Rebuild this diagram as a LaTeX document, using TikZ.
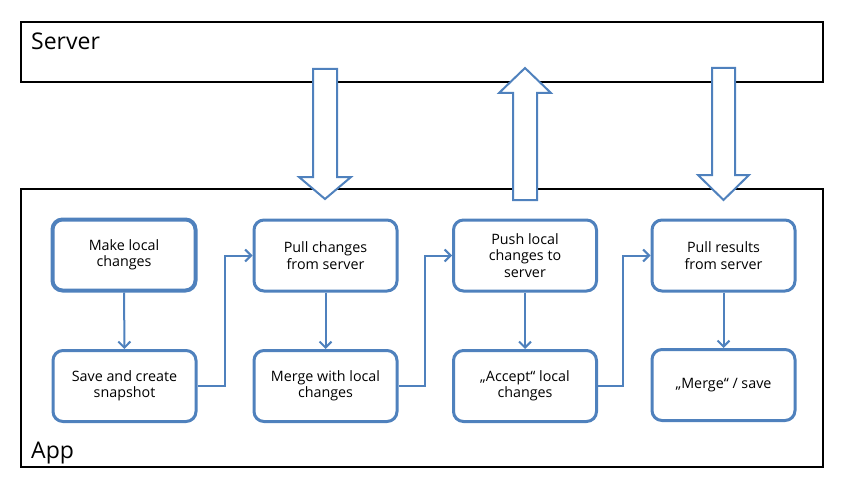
\documentclass[tikz,border=0pt]{standalone}
\usepackage{fontspec}
\setmainfont{Open Sans}
\usetikzlibrary{arrows.meta}
\definecolor{ob}{HTML}{4F81BD}
\begin{document}
\begin{tikzpicture}[x=1pt,y=-1pt,
  lane/.style={draw=black, line width=2pt},
  lanelabel/.style={anchor=base west, inner sep=0pt, font=\fontsize{23}{27}\selectfont},
  box/.style={draw=ob, line width=3pt, rounded corners=10pt, fill=white, align=center,
    minimum width=143pt, minimum height=71pt, inner sep=0pt,
    font=\fontsize{14.3}{16.5}\selectfont},
  thickbox/.style={box, line width=4pt},
  conn/.style={draw=ob, line width=2pt, -{Straight Barb[length=6pt,width=12pt,line width=2pt]}},
  blockarrow/.style={draw=ob, line width=2pt, fill=white, line join=miter}
]
\useasboundingbox (0,0) rectangle (844,487);
% lanes
\draw[lane] (21,22) rectangle (823,82);
\node[lanelabel] (srv) at (31,50) {Server};
\draw[lane] (21,189) rectangle (823,467);
\node[lanelabel] (app) at (31,458) {App};
% block arrows
\draw[blockarrow] (313,69) -- (337,69) -- (337,177) -- (351,177) -- (325,199) -- (299,177) -- (313,177) -- cycle;
\draw[blockarrow] (513,200) -- (537,200) -- (537,93) -- (551,93) -- (525,68) -- (499,93) -- (513,93) -- cycle;
\draw[blockarrow] (712,68) -- (735,68) -- (735,175) -- (749,175) -- (723.5,200) -- (698,175) -- (712,175) -- cycle;
% boxes
\node[thickbox] (b1) at (124,255) {Make local\\changes};
\node[box] (b2) at (124.5,386) {Save and create\\snapshot};
\node[box] (b3) at (325.5,255.5) {Pull changes\\from server};
\node[box] (b4) at (325.5,386) {Merge with local\\changes};
\node[box] (b5) at (525,255.5) {Push local\\changes to\\server};
\node[box] (b6) at (525,386) {„Accept“ local\\changes};
\node[box] (b7) at (723.5,255.5) {Pull results\\from server};
\node[box] (b8) at (723.5,385) {„Merge“ / save};
% connectors
\draw[conn] (b1) -- (b2);
\draw[conn] (b3) -- (b4);
\draw[conn] (b5) -- (b6);
\draw[conn] (b7) -- (b8);
\draw[conn] (b2.east) -- ++(27,0) |- (b3.west);
\draw[conn] (b4.east) -- ++(26,0) |- (b5.west);
\draw[conn] (b6.east) -- ++(25,0) |- (b7.west);
\end{tikzpicture}
\end{document}
